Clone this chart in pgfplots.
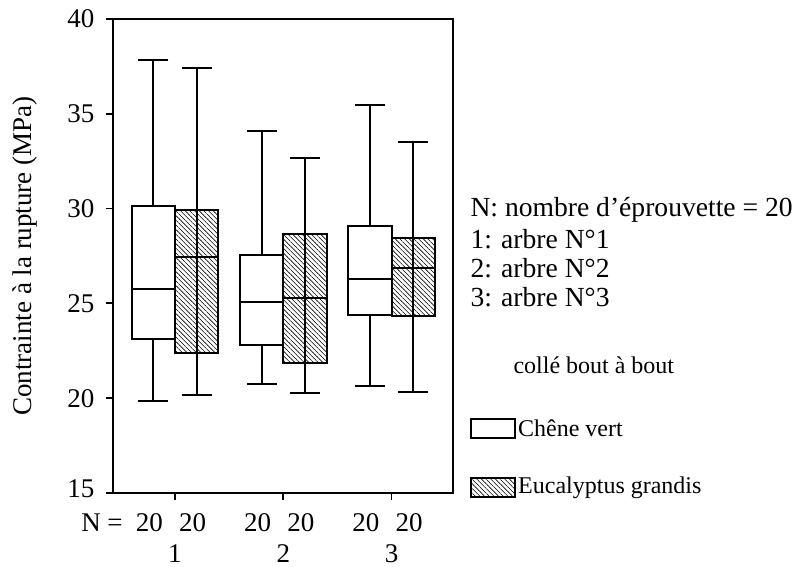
\documentclass[border=0pt]{standalone}
\usepackage{fontspec}
\setmainfont{Liberation Serif}
\usepackage{pgfplots}
\pgfplotsset{compat=1.18}
\usetikzlibrary{patterns.meta}

\newcommand\ticksize{\fontsize{27}{31}\selectfont}
\newcommand\txtsize{\fontsize{27.6}{31}\selectfont}
\newcommand\legsize{\fontsize{24}{28}\selectfont}

\pgfplotsset{
  boite/.style={black, solid, line width=2pt, mark=none},
  moustache/.style={black, solid, line width=2pt, mark=-, mark size=15pt,
      mark options={solid, line width=2pt}},
  chene/.style={boite, fill=white},
  euca/.style={boite, pattern={Lines[angle=-45, distance=3.3pt, line width=0.6pt]}},
}
\tikzset{nlab/.style={font=\ticksize, xshift=-4pt, yshift=-30pt}}

% #1 style, #2 gauche, #3 centre, #4 droite,
% #5 moustache basse, #6 Q1, #7 mediane, #8 Q3, #9 moustache haute
\newcommand\boite[9]{%
  \addplot[moustache] coordinates {(#3,#5) (#3,#9)};
  \addplot[#1] coordinates {(#2,#6) (#4,#6) (#4,#8) (#2,#8)} --cycle;
  \addplot[boite] coordinates {(#2,#7) (#4,#7)};
}

\begin{document}
\begin{tikzpicture}
\useasboundingbox (-113pt,-74pt) rectangle (683pt,493pt);
\begin{axis}[
    scale only axis,
    width=340pt, height=474pt,
    xmin=0.428, xmax=3.567,
    ymin=15, ymax=40,
    axis line style={line width=1.8pt},
    tick pos=left,
    tick align=outside,
    major tick length=7pt,
    tick style={line width=1.8pt, black},
    xtick={1,2,3},
    xticklabels={1,2,3},
    ytick={15,20,25,30,35,40},
    yticklabels={\raisebox{9pt}{15},20,25,30,35,40},
    ticklabel style={font=\ticksize},
    xticklabel style={yshift=-41pt},
    yticklabel style={xshift=-8pt},
    ylabel={Contrainte à la rupture (MPa)},
    ylabel style={at={(rel axis cs:0,0.5)}, anchor=center, yshift=88pt, font=\ticksize},
    clip=false,
  ]
  % arbre 1
  \boite{chene}{0.6}{0.8}{1.0}{19.83}{23.14}{25.74}{30.16}{37.86}
  \boite{euca}{1.0}{1.2}{1.4}{20.17}{22.37}{27.45}{29.90}{37.42}
  % arbre 2
  \boite{chene}{1.6}{1.8}{2.0}{20.74}{22.79}{25.08}{27.53}{34.09}
  \boite{euca}{2.0}{2.2}{2.4}{20.25}{21.88}{25.31}{28.67}{32.68}
  % arbre 3
  \boite{chene}{2.6}{2.8}{3.0}{20.64}{24.40}{26.30}{29.09}{35.47}
  \boite{euca}{3.0}{3.2}{3.4}{20.34}{24.33}{26.89}{28.43}{33.49}

  % effectifs
  \node[nlab] at (axis cs:0.8,15) {20};
  \node[nlab] at (axis cs:1.2,15) {20};
  \node[nlab] at (axis cs:1.8,15) {20};
  \node[nlab] at (axis cs:2.2,15) {20};
  \node[nlab] at (axis cs:2.8,15) {20};
  \node[nlab] at (axis cs:3.2,15) {20};
\end{axis}

\node[font=\ticksize] at (-11pt,-30pt) {N =};

\node[font=\txtsize, anchor=west] at (354pt,283pt) {N: nombre d’éprouvette = 20};
\node[font=\txtsize, anchor=west] at (354pt,254pt) {1: arbre N°1};
\node[font=\txtsize, anchor=west] at (354pt,225pt) {2: arbre N°2};
\node[font=\txtsize, anchor=west] at (354pt,196pt) {3: arbre N°3};

\node[font=\legsize, anchor=west] at (397pt,128pt) {collé bout à bout};

\draw[line width=1.6pt, fill=white] (358pt,55pt) rectangle (402pt,74pt);
\node[font=\legsize, anchor=west, inner sep=2pt] at (403pt,64.5pt) {Chêne vert};
\draw[line width=1.6pt, pattern={Lines[angle=-45, distance=3.3pt, line width=0.6pt]}] (358pt,-4pt) rectangle (402pt,15pt);
\node[font=\legsize, anchor=west, inner sep=2pt] at (403pt,5.5pt) {Eucalyptus grandis};
\end{tikzpicture}
\end{document}
